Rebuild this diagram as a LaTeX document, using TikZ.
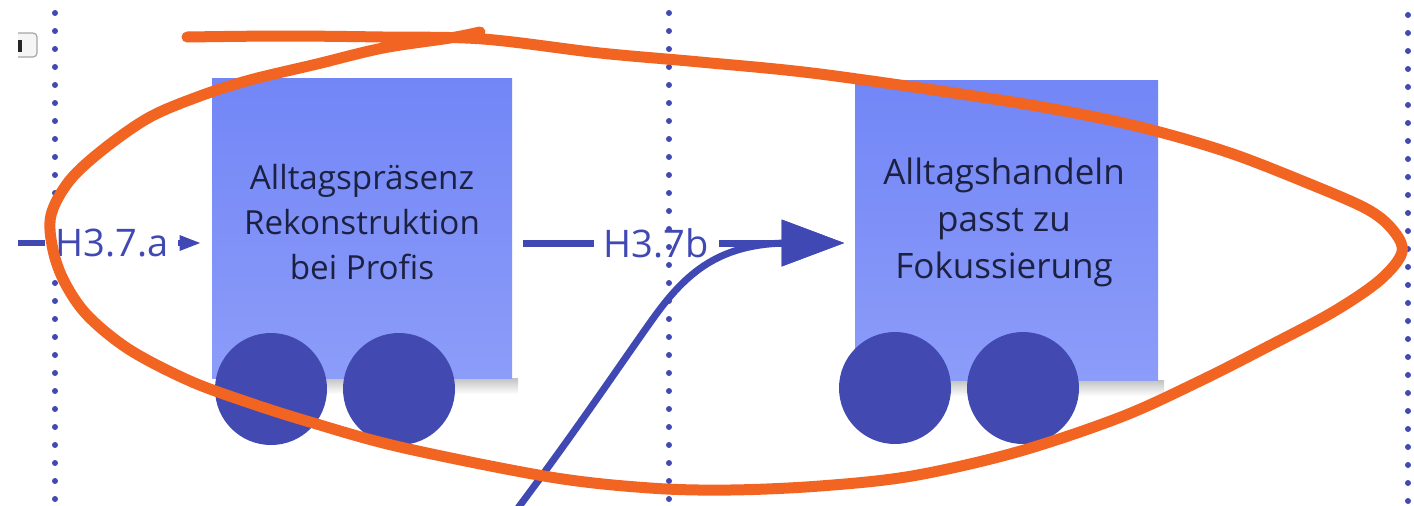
\documentclass[tikz,border=0pt]{standalone}
\usepackage{fontspec}
\setmainfont{Open Sans}
\usetikzlibrary{arrows.meta,calc}

\definecolor{cardtop}{RGB}{114,134,246}
\definecolor{cardbot}{RGB}{140,156,249}
\definecolor{dotblue}{RGB}{66,74,178}
\definecolor{lineblue}{RGB}{64,72,180}
\definecolor{inkdark}{RGB}{28,33,66}
\definecolor{marker}{RGB}{242,100,34}

\tikzset{
  card/.style={rectangle, inner sep=0pt, top color=cardtop, bottom color=cardbot,
    draw=none},
  cardshade/.style={top color=black!24, bottom color=white},
  cardtext/.style={align=center, text=inkdark, inner sep=0pt},
  puck/.style={circle, fill=dotblue, draw=none, minimum size=56pt, inner sep=0pt},
  divider/.style={dotblue, line width=3pt, line cap=round,
    dash pattern=on 0pt off 9pt},
  conn/.style={lineblue, line width=3pt},
  lbl/.style={fill=white, text=lineblue, inner xsep=5pt, inner ysep=4pt,
    font=\fontsize{19}{22}\selectfont},
  pen/.style={marker, line width=5.5pt, line cap=round, line join=round}
}

\begin{document}
\begin{tikzpicture}[x=0.5pt,y=-0.5pt]
\useasboundingbox (0,0) rectangle (1414,505);
\fill[white] (0,0) rectangle (1414,505);

% small toolbar button at the top left, partly off the canvas
\begin{scope}
  \clip (18,0) rectangle (60,80);
  \draw[rounded corners=2pt, draw=black!35, fill=black!4, line width=0.6pt]
    (8,33) rectangle (37,57);
  \fill[black!85] (18,40) rectangle (22,52);
\end{scope}

% dotted column dividers (left and right)
\draw[divider] (55,13) -- (55,505);
\draw[divider] (1408,15) -- (1408,505);

% soft shadows under the sticky notes
\shade[cardshade] (216,378) rectangle (518,394);
\shade[cardshade] (859,380) rectangle (1164,396);

% sticky notes
\node[card, minimum width=150pt, minimum height=150pt] (n1) at (362,228) {};
\node[card, minimum width=151.5pt, minimum height=150pt] (n2) at (1006.5,230) {};

\node[cardtext, font=\fontsize{16.6}{22.5}\selectfont] (t1) at (362,222)
  {Alltagspräsenz\\Rekonstruktion\\bei Profis};
\node[cardtext, font=\fontsize{17.5}{23.5}\selectfont] (t2) at (1004,222)
  {Alltagshandeln\\passt zu\\Fokussierung};

% voting dots
\node[puck] (d1a) at (271,389) {};
\node[puck] (d1b) at (399,389) {};
\node[puck] (d2a) at (895,388) {};
\node[puck] (d2b) at (1023,388) {};

% connectors
\coordinate (in) at (18,243);
\coordinate (a1) at ($(n1.east)+(0,15)$);
\coordinate (b2) at ($(n2.west)+(0,13)$);
\coordinate (cs) at (515,512);

\draw[conn, -{Triangle[length=11pt,width=7pt]}, shorten >=5pt]
  (in) -- node[lbl, pos=0.485] (l1) {H3.7.a} (in -| n1.west);

\draw[conn, line width=3.5pt, -{Triangle[length=31.5pt,width=22.5pt]},
      shorten <=5.5pt, shorten >=5pt]
  (a1) -- node[lbl, pos=0.42] (l2) {H3.7b} (b2);

\draw[conn, line width=3.5pt, -{Triangle[length=31.5pt,width=22.5pt]}, shorten >=5pt]
  (cs) .. controls (578,428) and (622,362) .. (652,320)
       .. controls (686,272) and (720,243) .. (790,243) -- (b2);

% middle dotted divider drawn over the label
\draw[divider] (669,13) -- (669,505);

% hand-drawn marker loop
\draw[pen] plot[smooth, tension=0.55] coordinates {
  (480,32) (450,38) (383,48) (317,64) (250,80) (200,96) (150,117) (105,148)
  (70,180) (51,215) (53,250) (65,283) (88,316) (130,350) (190,381) (250,403)
  (310,422) (400,447) (550,477) (650,488) (730,490) (820,486) (912,476)
  (1017,452) (1121,417) (1200,381) (1267,347) (1333,312) (1380,280)
  (1402,252) (1392,229) (1365,208) (1300,180) (1233,154) (1167,134)
  (1100,118) (1000,100) (820,74) (700,62) (600,53) (483,39) (383,37)
  (283,36) (187,37)};
\end{tikzpicture}
\end{document}
